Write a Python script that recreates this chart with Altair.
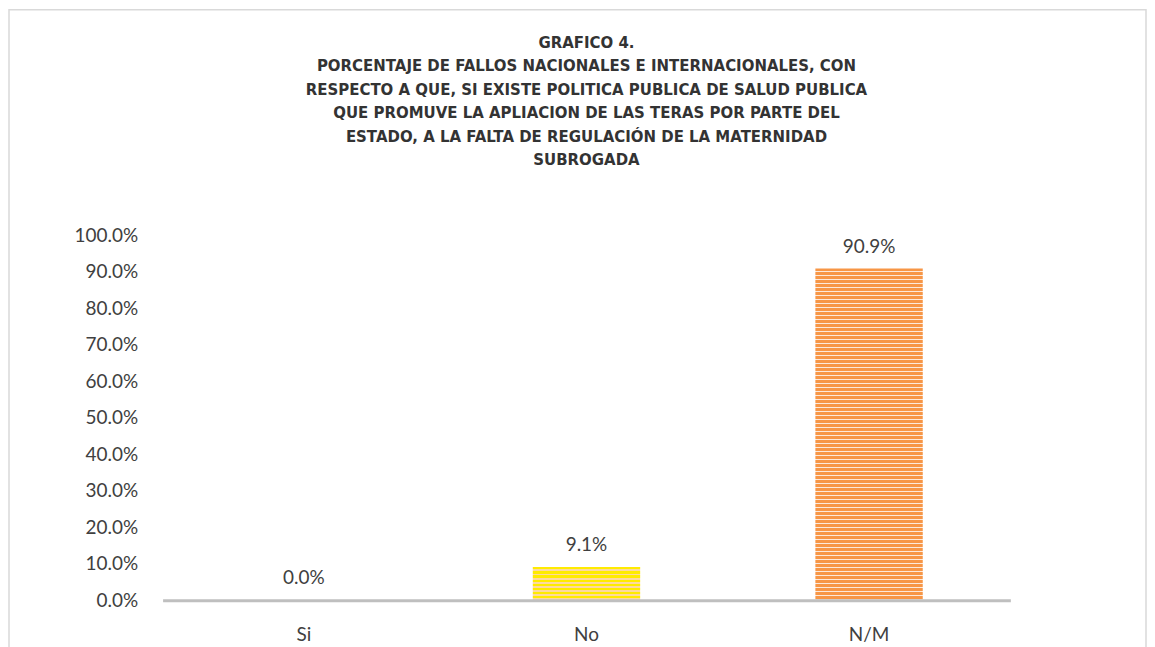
import altair as alt
import pandas as pd

categories = ["Si", "No", "N/M"]
values = [0.0, 0.091, 0.909]
value_labels = ["0.0%", "9.1%", "90.9%"]
y_ticks = [0.0, 0.1, 0.2, 0.3, 0.4, 0.5, 0.6, 0.7, 0.8, 0.9, 1.0]
title_lines = [
    "GRAFICO 4.",
    "PORCENTAJE DE FALLOS NACIONALES E INTERNACIONALES, CON",
    "RESPECTO A QUE, SI EXISTE POLITICA PUBLICA DE SALUD PUBLICA",
    "QUE PROMUVE LA APLIACION DE LAS TERAS POR PARTE DEL",
    "ESTADO, A LA FALTA DE REGULACIÓN DE LA MATERNIDAD",
    "SUBROGADA",
]

W, H = 850, 366

df = pd.DataFrame({"cat": categories, "val": values, "lab": value_labels})


def stripes(c1, c2, h, period=4.0, frac=0.55):
    n = max(1, int(round(h / period)))
    stops = []
    for i in range(n):
        a = i / n
        b = (i + frac) / n
        c = (i + 1) / n
        stops += [
            alt.GradientStop(offset=a, color=c1),
            alt.GradientStop(offset=b, color=c1),
            alt.GradientStop(offset=b, color=c2),
            alt.GradientStop(offset=c, color=c2),
        ]
    return alt.LinearGradient(gradient="linear", stops=stops, x1=0, x2=0, y1=0, y2=1)


xenc = alt.X(
    "cat:N",
    sort=categories,
    scale=alt.Scale(paddingInner=0.62, paddingOuter=0.31),
    axis=alt.Axis(
        title=None, labelAngle=0, ticks=False, domainColor="#BFBFBF", domainWidth=3,
        labelFont="Lato", labelFontSize=19, labelColor="#404040", labelPadding=25,
        zindex=1,
    ),
)
yenc = alt.Y(
    "val:Q",
    scale=alt.Scale(domain=[0, 1], nice=False),
    axis=alt.Axis(
        title=None, values=y_ticks, format=".1%", ticks=False, domain=False, grid=False,
        labelFont="Lato", labelFontSize=19, labelColor="#404040", labelPadding=25,
    ),
)

base = alt.Chart(df)

bar_no = base.transform_filter(alt.datum.cat == "No").mark_bar(
    color=stripes("#FFEB00", "#FDD9A0", values[1] * H)
).encode(x=xenc, y=yenc)

bar_nm = base.transform_filter(alt.datum.cat == "N/M").mark_bar(
    color=stripes("#F79646", "#FDE9DA", values[2] * H)
).encode(x=xenc, y=yenc)

text = base.mark_text(
    font="Lato", fontSize=19, color="#404040", baseline="middle", dy=-22
).encode(x=xenc, y=yenc, text="lab:N")

frame = alt.Chart(pd.DataFrame({"a": [0]})).mark_rect(
    fillOpacity=0, stroke="#D9D9D9", strokeWidth=1.5
).encode(
    x=alt.value(-154), x2=alt.value(986), y=alt.value(-226), y2=alt.value(430)
)

title = alt.Chart(pd.DataFrame({"a": [0]})).mark_text(
    align="center", baseline="top", lineBreak="\n", lineHeight=23.5,
    font="DejaVu Sans", fontSize=15, fontWeight="bold", color="#333333",
).encode(x=alt.value(W / 2), y=alt.value(-200), text=alt.value("\n".join(title_lines)))

chart = alt.layer(frame, bar_no, bar_nm, text, title).properties(
    width=W, height=H, padding=0
).configure(background="white").configure_view(strokeWidth=0, stroke="transparent")

chart.save("out.html", embed_options={"renderer": "svg", "actions": False})
